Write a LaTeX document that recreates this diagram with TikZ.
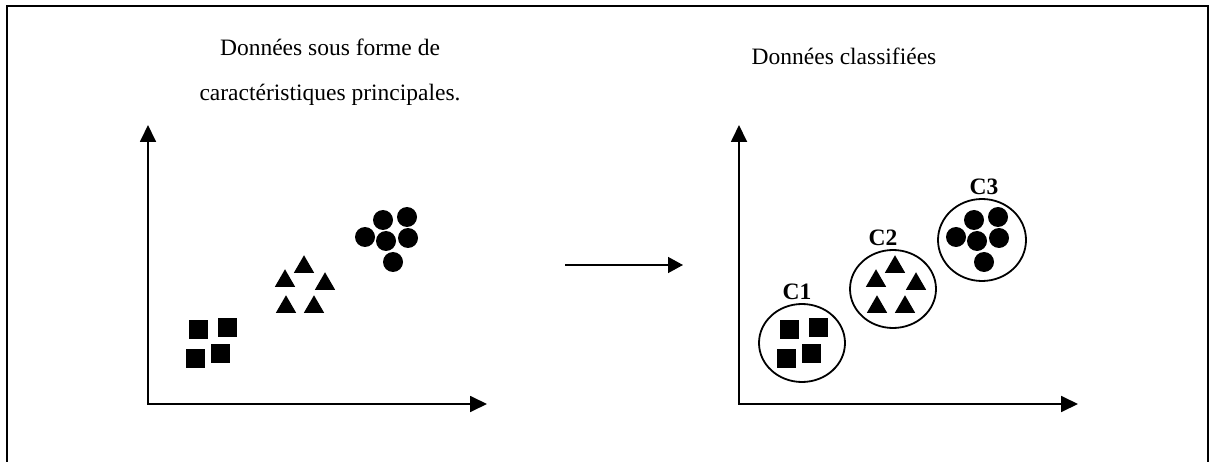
\documentclass[tikz,border=0pt]{standalone}
\usepackage{fontspec}
\setmainfont{Liberation Serif}
\usetikzlibrary{arrows.meta, shapes.geometric, positioning}

\tikzset{
  axes/.style={line width=1.8pt, {Triangle[length=17pt,width=16pt]}-{Triangle[length=17pt,width=16pt]}},
  carre/.style={rectangle, fill, minimum size=19pt, inner sep=0pt},
  triang/.style={regular polygon, regular polygon sides=3, fill, minimum size=23.5pt, inner sep=0pt},
  rond/.style={circle, fill, minimum size=20pt, inner sep=0pt},
  groupe/.style={ellipse, draw, line width=1.8pt, inner sep=0pt},
  titre/.style={inner sep=0pt, anchor=base, font=\fontsize{23.5}{27}\selectfont},
  classe/.style={inner sep=0pt, font=\fontsize{23.5}{27}\selectfont\bfseries},
}

\begin{document}
\begin{tikzpicture}[x=1pt, y=-1pt]
    \useasboundingbox (0,0) rectangle (1212,462);

    % cadre
    \draw[line width=2pt] (7,462) -- (7,6) -- (1208,6) -- (1208,462);

    % titres
    \node[titre] (t1) at (330,56) {Données sous forme de};
    \node[titre] (t2) at (330,101) {caractéristiques principales.};
    \node[titre] (t3) at (844,65) {Données classifiées};

    % les deux repères avec les nuages de points
    \foreach \dx/\s in {0/a, 591/b} {
        \begin{scope}[xshift=\dx pt]
            \coordinate (O\s) at (148,404);
            \coordinate (X\s) at (487,404);
            \coordinate (Y\s) at (148,125);
            \draw[axes] (Y\s) -- (O\s) -- (X\s);

            \foreach \p [count=\i] in {(198,329),(227,327),(195,358),(220,353)}
                \node[carre] (\s sq\i) at \p {};
            \foreach \p [count=\i] in {(304,267),(285,281),(325,284),(286,307),(314,307)}
                \node[triang] (\s tr\i) at \p {};
            \foreach \p [count=\i] in {(383,220),(407,217),(365,237),(386,241),(408,238),(393,262)}
                \node[rond] (\s rd\i) at \p {};
        \end{scope}
    }

    % fleche du milieu
    \coordinate (fa) at (565,265);
    \coordinate (fb) at (683,265);
    \draw[line width=1.5pt, -{Triangle[length=15pt,width=16pt]}] (fa) -- (fb);

    % classes
    \node[groupe, minimum width=86pt, minimum height=78pt] (g1) at (802,343) {};
    \node[groupe, minimum width=86pt, minimum height=78pt] (g2) at (893,289) {};
    \node[groupe, minimum width=88pt, minimum height=82pt] (g3) at (982,240) {};

    \node[classe, above=3pt of g1, xshift=-5pt] (c1) {C1};
    \node[classe, above=3pt of g2, xshift=-10pt] (c2) {C2};
    \node[classe, above=3pt of g3, xshift=2pt] (c3) {C3};
\end{tikzpicture}
\end{document}
